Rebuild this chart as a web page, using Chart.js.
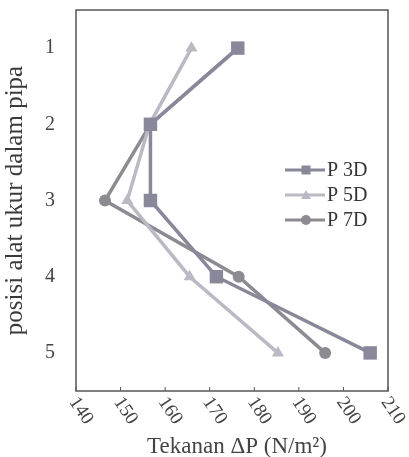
<!DOCTYPE html>
<html>
<head>
<meta charset="utf-8">
<script src="https://cdn.jsdelivr.net/npm/chart.js@4"></script>
<style>
  html, body { margin: 0; padding: 0; background: #fff; }
  #wrap { width: 409px; height: 457px; position: relative; }
</style>
</head>
<body>
<div id="wrap"><canvas id="c"></canvas></div>
<script>
// 位置 (y) 與壓力值 (x)
const positions = [1, 2, 3, 4, 5];
const p3D = [176.3, 156.7, 156.7, 171.5, 206];
const p5D = [165.9, 156.5, 151.5, 165.5, 185.3];
const p7D = [176.3, 156.7, 146.5, 176.5, 195.9];
const xTicks = [140, 150, 160, 170, 180, 190, 200, 210];
const yTicks = [1, 2, 3, 4, 5];
const seriesNames = ['P 3D', 'P 5D', 'P 7D'];

const FONT = '"Liberation Serif", "DejaVu Serif", serif';
const colors = ['#88889a', '#babac4', '#8e8a92'];
const shapes = ['rect', 'triangle', 'circle'];
const radii = [9.5, 7, 6];

function toPoints(vals) {
    return vals.map((v, i) => ({ x: v, y: positions[i] }));
}

// 自訂繪製：邊框、x 軸刻度文字（順時針旋轉）、x 軸標題、圖例
const decorPlugin = {
    id: 'decor',
    afterDraw(chart) {
        const ctx = chart.ctx;
        const a = chart.chartArea;
        const xs = chart.scales.x;
        ctx.save();
        ctx.strokeStyle = '#555';
        ctx.lineWidth = 1.5;
        ctx.strokeRect(a.left, a.top, a.right - a.left, a.bottom - a.top);

        // 小刻度
        ctx.lineWidth = 1;
        xTicks.forEach(v => {
            const px = xs.getPixelForValue(v);
            ctx.beginPath();
            ctx.moveTo(px, a.bottom);
            ctx.lineTo(px, a.bottom - 4);
            ctx.stroke();
        });

        // x 刻度文字
        ctx.fillStyle = '#444';
        ctx.font = '19px ' + FONT;
        ctx.textAlign = 'left';
        ctx.textBaseline = 'middle';
        xTicks.forEach(v => {
            const px = xs.getPixelForValue(v);
            ctx.save();
            ctx.translate(px - 3, a.bottom + 8);
            ctx.rotate(56 * Math.PI / 180);
            ctx.fillText(String(v), 0, 0);
            ctx.restore();
        });

        // x 標題
        ctx.font = '23px ' + FONT;
        ctx.textAlign = 'center';
        ctx.textBaseline = 'alphabetic';
        const title = 'Tekanan ΔP (N/m²)';
        ctx.fillText(title, (a.left + a.right) / 2 + 5, 453);

        // 圖例
        ctx.font = '20px ' + FONT;
        ctx.textAlign = 'left';
        ctx.textBaseline = 'middle';
        seriesNames.forEach((name, i) => {
            const y = a.top + 160 + i * 25;
            const x0 = a.right - 103;
            ctx.strokeStyle = colors[i];
            ctx.lineWidth = 3;
            ctx.beginPath();
            ctx.moveTo(x0, y);
            ctx.lineTo(x0 + 40, y);
            ctx.stroke();
            ctx.fillStyle = colors[i];
            const cx = x0 + 21;
            ctx.beginPath();
            if (shapes[i] === 'rect') {
                ctx.rect(cx - 4.5, y - 4.5, 9, 9);
            } else if (shapes[i] === 'triangle') {
                ctx.moveTo(cx, y - 5);
                ctx.lineTo(cx + 5, y + 4);
                ctx.lineTo(cx - 5, y + 4);
                ctx.closePath();
            } else {
                ctx.arc(cx, y, 5, 0, Math.PI * 2);
            }
            ctx.fill();
            ctx.fillStyle = '#333';
            ctx.fillText(name, x0 + 42, y + 1);
        });
        ctx.restore();
    }
};

const datasets = [p3D, p5D, p7D].map((vals, i) => ({
    label: seriesNames[i],
    data: toPoints(vals),
    borderColor: colors[i],
    backgroundColor: colors[i],
    borderWidth: 3.5,
    pointStyle: shapes[i],
    pointRadius: radii[i],
    pointBorderWidth: 0,
    showLine: true,
    tension: 0
}));

new Chart(document.getElementById('c'), {
    type: 'scatter',
    data: { datasets },
    options: {
        responsive: true,
        maintainAspectRatio: false,
        animation: false,
        layout: { padding: { left: 0, top: 10, right: 21, bottom: 0 } },
        plugins: {
            legend: { display: false },
            tooltip: { enabled: false }
        },
        scales: {
            x: {
                type: 'linear',
                min: 140,
                max: 210,
                afterBuildTicks: s => { s.ticks = xTicks.map(v => ({ value: v })); },
                afterFit: s => {
                    s.height = 66;
                    s.paddingLeft = 0;
                    s.paddingRight = 0;
                },
                grid: { display: false },
                border: { display: false },
                ticks: { display: false }
            },
            y: {
                type: 'linear',
                min: 0.5,
                max: 5.5,
                reverse: true,
                afterBuildTicks: s => { s.ticks = yTicks.map(v => ({ value: v })); },
                afterFit: s => {
                    s.width = 76;
                    s.paddingTop = 0;
                    s.paddingBottom = 0;
                },
                grid: { display: false },
                border: { display: false },
                ticks: {
                    color: '#444',
                    padding: 13,
                    font: { family: FONT, size: 20 }
                },
                title: {
                    display: true,
                    text: 'posisi alat ukur dalam pipa',
                    color: '#3a3a3a',
                    padding: { top: 0, bottom: 0 },
                    font: { family: FONT, size: 25 }
                }
            }
        }
    },
    plugins: [decorPlugin]
});
</script>
</body>
</html>
